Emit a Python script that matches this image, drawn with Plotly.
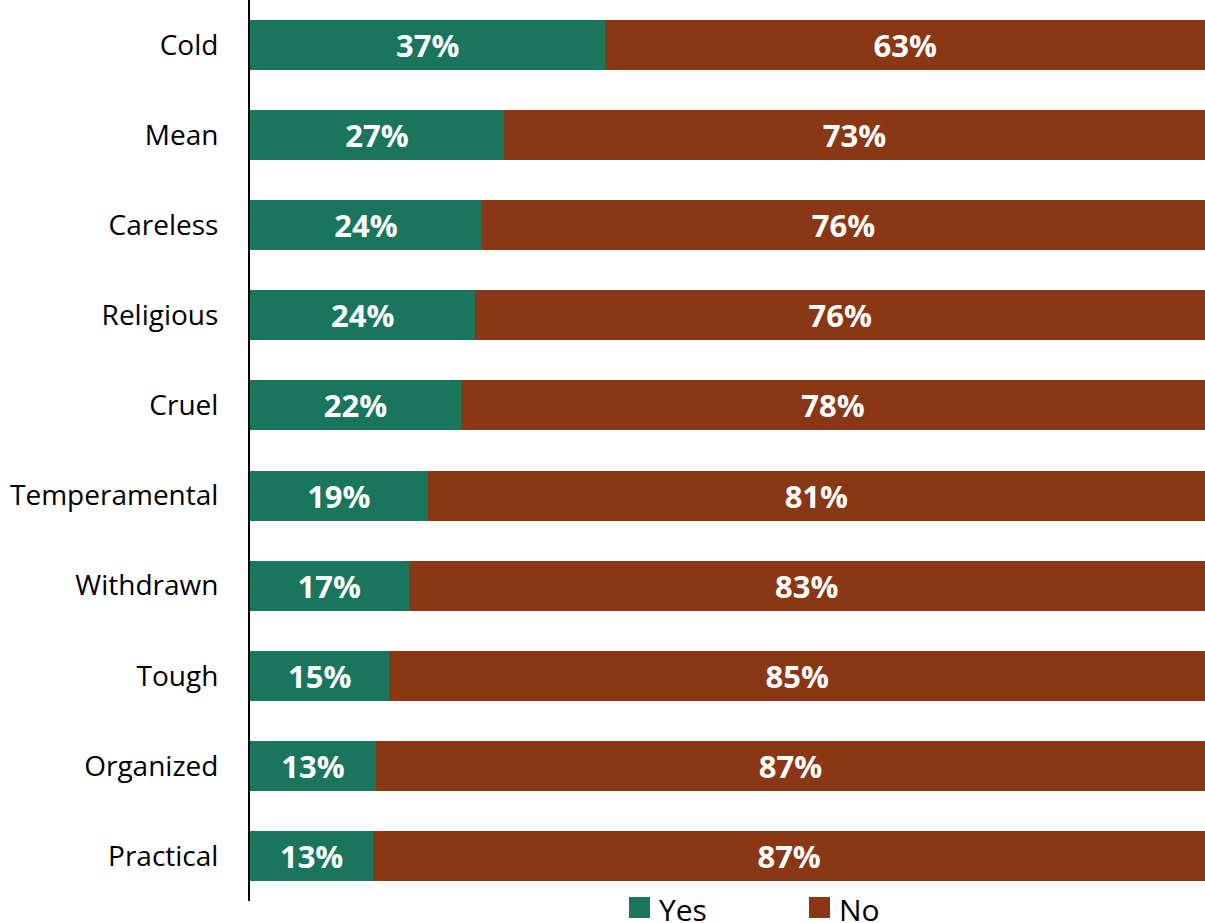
import plotly.graph_objects as go

categories = ["Cold", "Mean", "Careless", "Religious", "Cruel", "Temperamental",
              "Withdrawn", "Tough", "Organized", "Practical"]
yes_values = [37.2, 26.6, 24.3, 23.6, 22.1, 18.6, 16.6, 14.6, 13.2, 12.9]
no_values = [round(100 - v, 1) for v in yes_values]

GREEN = "#19765C"
BROWN = "#8A3716"
FONT = "Open Sans"

fig = go.Figure()
fig.add_trace(go.Bar(
    y=categories, x=yes_values, orientation="h", name="Yes",
    marker=dict(color=GREEN, line=dict(width=0)),
    texttemplate="%{x:.0f}%", textposition="inside", insidetextanchor="middle",
    textangle=0,
    textfont=dict(family=FONT, size=31, color="white", weight="bold"),
    hoverinfo="skip",
))
fig.add_trace(go.Bar(
    y=categories, x=no_values, orientation="h", name="No",
    marker=dict(color=BROWN, line=dict(width=0)),
    texttemplate="%{x:.0f}%", textposition="inside", insidetextanchor="middle",
    textangle=0,
    textfont=dict(family=FONT, size=31, color="white", weight="bold"),
    hoverinfo="skip",
))

W, H = 1205, 923
L, R, T, B = 250, 0, 0, 22
pw, ph = W - L - R, H - T - B

def px_x(px):
    return (px - L) / pw

def px_y(py):
    return (H - B - py) / ph

shapes = [
    dict(type="rect", xref="paper", yref="paper",
         x0=px_x(629), x1=px_x(650), y0=px_y(918), y1=px_y(897),
         fillcolor=GREEN, line=dict(width=0)),
    dict(type="rect", xref="paper", yref="paper",
         x0=px_x(809), x1=px_x(830), y0=px_y(918), y1=px_y(897),
         fillcolor=BROWN, line=dict(width=0)),
]
annotations = [
    dict(text="Yes", xref="paper", yref="paper", x=px_x(657), y=px_y(909),
         xanchor="left", yanchor="middle", showarrow=False,
         font=dict(family=FONT, size=30, color="black")),
    dict(text="No", xref="paper", yref="paper", x=px_x(837), y=px_y(909),
         xanchor="left", yanchor="middle", showarrow=False,
         font=dict(family=FONT, size=30, color="black")),
]

fig.update_layout(
    width=W, height=H,
    margin=dict(l=L, r=R, t=T, b=B, pad=0),
    barmode="stack", bargap=0.445,
    plot_bgcolor="white", paper_bgcolor="white",
    showlegend=False,
    shapes=shapes, annotations=annotations,
    uniformtext=dict(minsize=31, mode="show"),
    xaxis=dict(range=[0, 100], showgrid=False, zeroline=False,
               showticklabels=False, showline=False, fixedrange=True),
    yaxis=dict(autorange="reversed", showgrid=False, zeroline=False,
               showline=True, linecolor="black", linewidth=2,
               ticks="", ticklabelstandoff=24,
               tickfont=dict(family=FONT, size=28, color="black")),
    font=dict(family=FONT),
)

fig.write_html(
    "out.html",
    config={"displayModeBar": False},
    post_script="document.body.style.margin='0';document.body.style.overflow='hidden';",
)
